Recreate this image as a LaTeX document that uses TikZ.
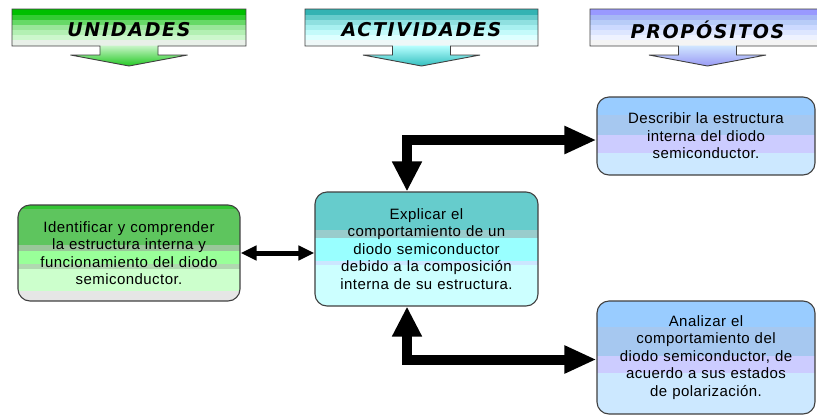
\documentclass[tikz,border=0pt]{standalone}
\usepackage{fontspec}
\setmainfont{Liberation Sans}
\newfontfamily\headfnt[LetterSpace=9]{DejaVu Sans}
\newfontfamily\bodyfnt[LetterSpace=3]{Liberation Sans}
\usetikzlibrary{arrows.meta,calc}
\newcommand\bodytext{\bodyfnt\fontsize{15}{17.5}\selectfont}
\newcommand\headtext{\headfnt\bfseries\itshape\fontsize{19}{20}\selectfont}
% banner colours
\definecolor{g1}{HTML}{00BF00}\definecolor{g2}{HTML}{33CC33}\definecolor{g3}{HTML}{66D966}
\definecolor{g4}{HTML}{99E699}\definecolor{g5}{HTML}{B3F0B3}\definecolor{g6}{HTML}{CCF7CC}
\definecolor{g7}{HTML}{E8F0E8}\definecolor{gT}{HTML}{C8F5C8}\definecolor{gB}{HTML}{22C822}
\definecolor{c1}{HTML}{33B3B3}\definecolor{c2}{HTML}{66CCCC}\definecolor{c3}{HTML}{8FE0E0}
\definecolor{c4}{HTML}{A8F0F0}\definecolor{c5}{HTML}{C4FAFA}\definecolor{c6}{HTML}{DDFFFF}
\definecolor{c7}{HTML}{EEF8F8}\definecolor{cT}{HTML}{B8FFFF}\definecolor{cB}{HTML}{33BFBF}
\definecolor{p1}{HTML}{9999FF}\definecolor{p2}{HTML}{A6B8F5}\definecolor{p3}{HTML}{B8CCF8}
\definecolor{p4}{HTML}{CCD9FF}\definecolor{p5}{HTML}{DDE6FF}\definecolor{p6}{HTML}{EEF2FF}
\definecolor{p7}{HTML}{F4F4F4}\definecolor{pT}{HTML}{D0E6FF}\definecolor{pB}{HTML}{9999F5}
% box colours
\definecolor{boxline}{HTML}{404040}
\definecolor{ga}{HTML}{33C433}\definecolor{gb}{HTML}{5EC55E}\definecolor{gc}{HTML}{99C799}
\definecolor{gd}{HTML}{99FF99}\definecolor{ge}{HTML}{B0D8B0}\definecolor{gf}{HTML}{CCFFCC}
\definecolor{gg}{HTML}{E6E6E6}
\definecolor{ta}{HTML}{66CCCC}\definecolor{tb}{HTML}{99CCCC}\definecolor{tc}{HTML}{99FFFF}
\definecolor{td}{HTML}{CCE6FF}\definecolor{te}{HTML}{CCFFFF}
\definecolor{ba}{HTML}{99CCFF}\definecolor{bb}{HTML}{A6C8F0}\definecolor{bc}{HTML}{CCCCFF}
\definecolor{bd}{HTML}{CCE8FF}
\tikzset{
  stripes/.style={path picture={
    \foreach \a/\b/\c in {#1}{
      \fill[\c, sharp corners] ($(path picture bounding box.north west)!\a!(path picture bounding box.south west)$)
        rectangle ($(path picture bounding box.north east)!\b!(path picture bounding box.south east)$);
    }}},
  box/.style={draw=boxline, line width=1.1pt, rounded corners=12pt, align=center,
    font=\bodytext, inner sep=0pt},
  bannerline/.style={draw=boxline, line width=0.9pt, line join=miter},
  headlabel/.style={font=\headtext, inner sep=0pt},
  bigconn/.style={line width=10pt, line join=miter,
    {Triangle[length=30pt,width=28pt]}-{Triangle[length=32pt,width=26pt]}},
  smallconn/.style={line width=5pt,
    {Triangle[length=16pt,width=14pt]}-{Triangle[length=16pt,width=14pt]}},
}
\newcommand\banner[6]{%
  \begin{scope}
    \clip (#1,9) rectangle (#2,46);
    \foreach \i/\ya/\yb in {1/9/15,2/15/20,3/20/25,4/25/30,5/30/35,6/35/40,7/40/46}
      \fill[#4\i] (#1,\ya) rectangle (#2,\yb);
  \end{scope}
  \shade[top color=#4T, bottom color=#4B]
    (#3-29,45.5) -- (#3-29,55) -- (#3-58.5,55) -- (#3,66) -- (#3+58.5,55) -- (#3+29,55) -- (#3+29,45.5) -- cycle;
  \draw[bannerline] (#3-29,46) -- (#1,46) -- (#1,9) -- (#2,9) -- (#2,46) -- (#3+29,46)
    -- (#3+29,55) -- (#3+58.5,55) -- (#3,66) -- (#3-58.5,55) -- (#3-29,55) -- cycle;
  \node[headlabel] (#5) at (#3,30) {#6};
}
\begin{document}
\begin{tikzpicture}[x=1pt,y=-1pt]
\useasboundingbox (0,0) rectangle (817,416);
\fill[white] (0,0) rectangle (817,416);
\clip (0,0) rectangle (817,416);

\banner{12}{246}{129}{g}{hU}{UNIDADES}
\banner{305}{538}{421.5}{c}{hA}{ACTIVIDADES}
\banner{590}{825}{707.5}{p}{hP}{PROPÓSITOS}

\node[box, minimum width=222pt, minimum height=96pt, text width=214pt,
  stripes={0/0.04/ga,0.04/0.417/gb,0.417/0.48/gc,0.48/0.615/gd,0.615/0.667/ge,0.667/0.896/gf,0.896/1/gg}]
  (uni) at (129,253) {Identificar y comprender\\ la estructura interna y\\ funcionamiento del diodo\\ semiconductor.};

\node[box, minimum width=223pt, minimum height=114pt, text width=214pt,
  stripes={0/0.333/ta,0.333/0.404/tb,0.404/0.605/tc,0.605/0.64/td,0.64/1/te}]
  (act) at (426.5,249) {Explicar el\\ comportamiento de un\\ diodo semiconductor\\ debido a la composición\\ interna de su estructura.};

\node[box, minimum width=218pt, minimum height=78pt, text width=210pt,
  stripes={0/0.231/ba,0.231/0.487/bb,0.487/0.718/bc,0.718/1/bd}]
  (pr1) at (706,136) {Describir la estructura\\ interna del diodo\\ semiconductor.};

\node[box, minimum width=218pt, minimum height=113pt, text width=210pt,
  stripes={0/0.23/ba,0.23/0.487/bb,0.487/0.637/bc,0.637/1/bd}]
  (pr2) at (706,357.5) {Analizar el\\ comportamiento del\\ diodo semiconductor, de\\ acuerdo a sus estados\\ de polarización.};

\coordinate (cx) at (407,0);
\draw[bigconn] (act.north -| cx) |- ([yshift=-4pt]pr1.west);
\draw[bigconn] (act.south -| cx) |- ([yshift=-2pt]pr2.west);
\draw[smallconn] (uni.east) -- (uni.east -| act.west);
\end{tikzpicture}
\end{document}
